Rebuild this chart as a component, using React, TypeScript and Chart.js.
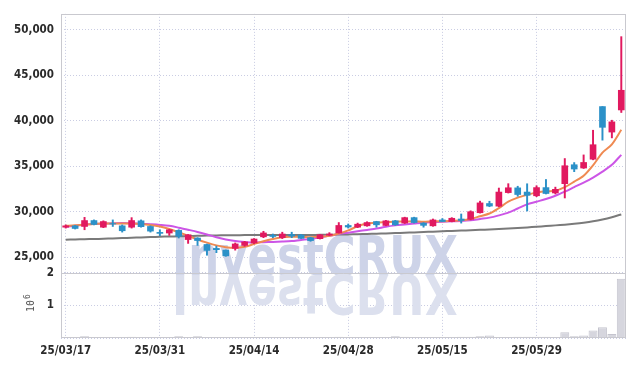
import { useEffect, useRef } from 'react';
import { Chart, registerables } from 'chart.js';

Chart.register(...registerables);

const dates = [
  '25/03/17', '25/03/18', '25/03/19', '25/03/20', '25/03/21', '25/03/24', '25/03/25', '25/03/26', '25/03/27', '25/03/28',
  '25/03/31', '25/04/01', '25/04/02', '25/04/03', '25/04/04', '25/04/07', '25/04/08', '25/04/09', '25/04/10', '25/04/11',
  '25/04/14', '25/04/15', '25/04/16', '25/04/17', '25/04/18', '25/04/21', '25/04/22', '25/04/23', '25/04/24', '25/04/25',
  '25/04/28', '25/04/29', '25/04/30', '25/05/02', '25/05/07', '25/05/08', '25/05/09', '25/05/12', '25/05/13', '25/05/14',
  '25/05/15', '25/05/16', '25/05/19', '25/05/20', '25/05/21', '25/05/22', '25/05/23', '25/05/26', '25/05/27', '25/05/28',
  '25/05/29', '25/05/30', '25/06/02', '25/06/04', '25/06/05', '25/06/09', '25/06/10', '25/06/11', '25/06/12', '25/06/13',
];

const opens = [
  28300, 28450, 28380, 29030, 28300, 28700, 28450, 28300, 29000, 28380,
  27730, 27660, 27950, 26940, 27110, 26400, 25970, 25780, 25970, 26300,
  26570, 27240, 27400, 27150, 27480, 27440, 27150, 27040, 27420, 27670,
  28490, 28300, 28450, 28920, 28490, 29000, 28750, 29350, 28750, 28450,
  29100, 28920, 29200, 29170, 29890, 30900, 30610, 32100, 32620, 32160,
  31750, 32650, 32060, 33080, 35160, 34800, 35770, 41550, 38750, 41180,
];
const highs = [
  28550, 28500, 29380, 29100, 29000, 29100, 28550, 29350, 29100, 28450,
  28020, 28050, 28020, 27500, 27150, 26450, 26220, 25800, 26570, 26750,
  27050, 27850, 27550, 27750, 27750, 27500, 27200, 27500, 27700, 28810,
  28650, 28750, 28900, 28950, 29050, 29050, 29400, 29400, 28800, 29200,
  29250, 29350, 29750, 30100, 31160, 31150, 32600, 33080, 32800, 33070,
  32850, 33540, 32700, 35840, 35400, 36240, 38950, 41550, 40050, 49230,
];
const lows = [
  28200, 28100, 28020, 28550, 28250, 28380, 27760, 28200, 28300, 27760,
  27370, 27400, 27110, 26520, 26300, 25220, 25500, 25100, 25780, 26200,
  26500, 27150, 27150, 27050, 27150, 27050, 26750, 27000, 27380, 27650,
  28200, 28250, 28400, 28300, 28450, 28500, 28700, 28750, 28300, 28400,
  28900, 28880, 28750, 29100, 29850, 30550, 30550, 32050, 31700, 30080,
  31650, 31950, 31950, 31510, 34400, 34750, 35700, 37860, 38110, 40900,
];
const closes = [
  28450, 28160, 29030, 28600, 28920, 28650, 27910, 29030, 28360, 27870,
  27620, 28020, 27300, 27470, 26830, 25750, 25830, 25150, 26460, 26680,
  27000, 27670, 27280, 27550, 27320, 27070, 26830, 27470, 27550, 28490,
  28320, 28630, 28810, 28560, 29000, 28560, 29350, 28810, 28500, 29100,
  28920, 29280, 29030, 30000, 30970, 30620, 32160, 32630, 31890, 31800,
  32650, 32000, 32460, 35050, 34690, 35410, 37360, 39270, 39870, 43340,
];

const ma5 = [
  28450, 28500, 28600, 28650, 28700, 28700, 28700, 28700, 28650, 28550,
  28380, 28100, 27750, 27350, 26950, 26600, 26300, 26100, 26030, 26150,
  26450, 26750, 27000, 27200, 27250, 27250, 27200, 27250, 27350, 27600,
  27950, 28400, 28700, 28800, 28850, 28900, 28920, 28950, 28900, 28950,
  28950, 29000, 29050, 29200, 29500, 29800, 30400, 31100, 31550, 31850,
  32100, 32250, 32300, 32700, 33300, 33950, 35100, 36500, 37400, 39000,
];
const ma20 = [
  28350, 28450, 28580, 28650, 28700, 28720, 28750, 28720, 28680, 28620,
  28550, 28450, 28250, 28020, 27780, 27500, 27200, 26950, 26780, 26680,
  26620, 26650, 26680, 26720, 26780, 26900, 27000, 27200, 27350, 27550,
  27700, 27850, 28000, 28150, 28350, 28500, 28600, 28700, 28800, 28850,
  28900, 28950, 28980, 29050, 29200, 29350, 29600, 29900, 30350, 30800,
  31100, 31400, 31750, 32200, 32700, 33200, 33750, 34400, 35150, 36250,
];
const ma60 = [
  26930, 26960, 26980, 27000, 27030, 27060, 27100, 27140, 27180, 27220,
  27250, 27280, 27300, 27330, 27360, 27380, 27400, 27410, 27420, 27430,
  27430, 27430, 27430, 27430, 27430, 27440, 27450, 27460, 27470, 27490,
  27510, 27530, 27560, 27590, 27620, 27650, 27690, 27730, 27770, 27810,
  27850, 27890, 27930, 27970, 28010, 28050, 28100, 28150, 28200, 28270,
  28350, 28420, 28500, 28580, 28680, 28800, 28950, 29150, 29400, 29700,
];

// volume in millions of shares (axis unit 10^6)
const volumes = [
  0.02, 0.02, 0.05, 0.02, 0.02, 0.02, 0.02, 0.04, 0.02, 0.02,
  0.02, 0.02, 0.05, 0.02, 0.05, 0.03, 0.02, 0.02, 0.02, 0.02,
  0.02, 0.02, 0.02, 0.02, 0.03, 0.03, 0.03, 0.02, 0.02, 0.04,
  0.02, 0.02, 0.02, 0.03, 0.02, 0.05, 0.04, 0.02, 0.02, 0.02,
  0.02, 0.03, 0.04, 0.04, 0.05, 0.08, 0.02, 0.02, 0.04, 0.04,
  0.04, 0.04, 0.03, 0.18, 0.05, 0.08, 0.23, 0.33, 0.12, 1.82,
];

const priceTicks = [25000, 30000, 35000, 40000, 45000, 50000];
const volumeTicks = [0, 1, 2];
const WATERMARK = 'InvestCRUX';

const UP = '#e1195f';
const DOWN = '#2b91c8';
const GRID = 'rgba(150,155,200,0.5)';
const FRAME = '#c9c9cf';
const TICK_FONT = { family: '"DejaVu Sans Condensed", "DejaVu Sans", sans-serif', size: 11.5, weight: 'bold' as const };

const overlayPlugin = {
  id: 'overlay',
  beforeDatasetsDraw(chart: any) {
    const ctx = chart.ctx as CanvasRenderingContext2D;
    const yv = chart.scales.yv;
    ctx.save();
    ctx.font = 'bold 56px "DejaVu Sans", sans-serif';
    const w = ctx.measureText(WATERMARK).width;
    const sx = 286 / w;
    const base = yv.top + 2;
    ctx.translate(172, base);
    ctx.scale(sx, 1);
    ctx.fillStyle = '#cdd3e8';
    ctx.textBaseline = 'alphabetic';
    ctx.fillText(WATERMARK, 0, 0);
    ctx.scale(1, -1);
    ctx.fillStyle = '#dce0ee';
    ctx.fillText(WATERMARK, 0, 0);
    ctx.restore();
  },
  afterDraw(chart: any) {
    const ctx = chart.ctx as CanvasRenderingContext2D;
    const { left, right, top, bottom } = chart.chartArea;
    const yp = chart.scales.yp;
    ctx.save();
    ctx.strokeStyle = FRAME;
    ctx.lineWidth = 1;
    ctx.strokeRect(Math.round(left) + 0.5, Math.round(top) + 0.5, Math.round(right - left) - 1, Math.round(bottom - top) - 1);
    ctx.beginPath();
    ctx.moveTo(left, Math.round(yp.bottom) + 0.5);
    ctx.lineTo(right, Math.round(yp.bottom) + 0.5);
    ctx.stroke();
    // volume unit label
    ctx.fillStyle = '#555';
    ctx.translate(34, 312);
    ctx.rotate(-Math.PI / 2);
    ctx.textAlign = 'left';
    ctx.textBaseline = 'alphabetic';
    ctx.font = '10px "DejaVu Sans Mono", monospace';
    ctx.fillText('10', 0, 0);
    ctx.font = '8px "DejaVu Sans Mono", monospace';
    ctx.fillText('6', 13, -4);
    ctx.restore();
  },
};

export default function App() {
  const ref = useRef<HTMLCanvasElement | null>(null);

  useEffect(() => {
    if (!ref.current) return;
    const colors = opens.map((o, i) => (closes[i] >= o ? UP : DOWN));
    const chart = new Chart(ref.current, {
      type: 'bar',
      data: {
        labels: dates,
        datasets: [
          {
            type: 'bar',
            data: opens.map((o, i) => [o, closes[i]]) as any,
            backgroundColor: colors,
            borderWidth: 0,
            barThickness: 6,
            grouped: false,
            yAxisID: 'yp',
            order: 0,
          },
          {
            type: 'bar',
            data: lows.map((l, i) => [l, highs[i]]) as any,
            backgroundColor: colors,
            borderWidth: 0,
            barThickness: 1.3,
            grouped: false,
            yAxisID: 'yp',
            order: 1,
          },
          {
            type: 'line',
            data: ma5,
            borderColor: '#ef8a52',
            borderWidth: 2,
            pointRadius: 0,
            tension: 0.3,
            yAxisID: 'yp',
            order: 2,
          },
          {
            type: 'line',
            data: ma20,
            borderColor: '#cc55e6',
            borderWidth: 2,
            pointRadius: 0,
            tension: 0.3,
            yAxisID: 'yp',
            order: 3,
          },
          {
            type: 'line',
            data: ma60,
            borderColor: '#7a7a7a',
            borderWidth: 2,
            pointRadius: 0,
            tension: 0.3,
            yAxisID: 'yp',
            order: 4,
          },
          {
            type: 'bar',
            data: volumes,
            backgroundColor: '#d6d6de',
            borderColor: '#c4c4ce',
            borderWidth: 1,
            barPercentage: 0.95,
            categoryPercentage: 1,
            grouped: false,
            yAxisID: 'yv',
            order: 5,
          },
        ] as any,
      },
      options: {
        animation: false,
        responsive: true,
        maintainAspectRatio: false,
        devicePixelRatio: 1,
        layout: { padding: { left: 0, right: 8, top: 9, bottom: 0 } },
        plugins: { legend: { display: false }, tooltip: { enabled: false } },
        scales: {
          x: {
            type: 'category',
            offset: true,
            grid: { offset: false, color: GRID, drawTicks: false },
            border: { display: false, dash: [1, 2] },
            ticks: {
              autoSkip: false,
              maxRotation: 0,
              padding: 6,
              color: '#2a2a2a',
              font: TICK_FONT,
              callback: (_v: any, i: number) => (i % 10 === 0 ? dates[i] : null),
            },
            afterFit: (s: any) => {
              s.height = 28;
            },
          },
          yv: {
            type: 'linear',
            position: 'left',
            stack: 'v',
            stackWeight: 66,
            min: 0,
            max: 2,
            grid: { color: GRID, drawTicks: false },
            border: { display: false, dash: [1, 2] },
            ticks: {
              padding: 7,
              color: '#2a2a2a',
              font: TICK_FONT,
              callback: (v: any) => (Number(v) === 0 ? '' : String(v)),
            },
            afterBuildTicks: (s: any) => {
              s.ticks = volumeTicks.map((v) => ({ value: v }));
            },
            afterFit: (s: any) => {
              s.width = 61;
            },
          },
          yp: {
            type: 'linear',
            position: 'left',
            stack: 'v',
            stackWeight: 263,
            min: 23270,
            max: 51730,
            grid: { color: GRID, drawTicks: false },
            border: { display: false, dash: [1, 2] },
            ticks: {
              padding: 7,
              color: '#2a2a2a',
              font: TICK_FONT,
              callback: (v: any) => Number(v).toLocaleString('en-US'),
            },
            afterBuildTicks: (s: any) => {
              s.ticks = priceTicks.map((v) => ({ value: v }));
            },
            afterFit: (s: any) => {
              s.width = 61;
            },
          },
        } as any,
      },
      plugins: [overlayPlugin],
    });
    return () => chart.destroy();
  }, []);

  return (
    <div style={{ position: 'fixed', left: 0, top: 0, width: 634, height: 366, background: '#fff' }}>
      <canvas ref={ref} />
    </div>
  );
}
